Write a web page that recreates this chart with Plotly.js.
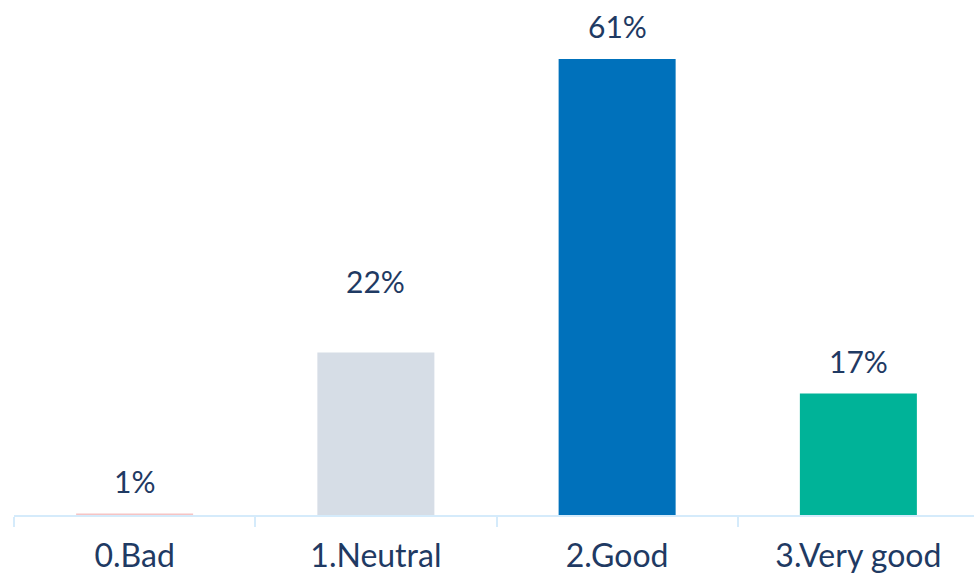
<!DOCTYPE html>
<html>
<head>
<meta charset="utf-8">
<script src="https://cdn.plot.ly/plotly-3.0.1.min.js"></script>
<style>
html, body { margin: 0; padding: 0; overflow: hidden; background: #ffffff; }
#chart { width: 979px; height: 573px; }
</style>
</head>
<body>
<div id="chart"></div>
<script>
// Data
const categories = ["0.Bad", "1.Neutral", "2.Good", "3.Very good"];
const values = [0.2, 21.8, 61.2, 16.3];
const valueLabels = ["1%", "22%", "61%", "17%"];
const barColors = ["#f6c4c4", "#d6dde6", "#0071bb", "#00b398"];

const textColor = "#1f3a63";
const labelShift = [13, 52, 13, 13];

const trace = {
  type: "bar",
  x: categories,
  y: values,
  marker: { color: barColors, line: { width: 0 } },
  hoverinfo: "skip"
};

const annotations = categories.map((c, i) => ({
  x: c,
  y: values[i],
  xref: "x",
  yref: "y",
  text: valueLabels[i],
  showarrow: false,
  yanchor: "bottom",
  yshift: labelShift[i],
  font: { family: "Lato, 'Open Sans', sans-serif", size: 30, color: textColor }
}));

const layout = {
  width: 979,
  height: 573,
  margin: { l: 14, r: 0, t: 0, b: 58 },
  paper_bgcolor: "#ffffff",
  plot_bgcolor: "#ffffff",
  bargap: 0.515,
  showlegend: false,
  xaxis: {
    type: "category",
    automargin: false,
    showline: true,
    linecolor: "#d5ebfb",
    linewidth: 2,
    ticks: "outside",
    tickson: "boundaries",
    ticklen: 10,
    tickcolor: "#d5ebfb",
    tickwidth: 2,
    ticklabelstandoff: 12,
    showgrid: false,
    zeroline: false,
    tickfont: { family: "Lato, 'Open Sans', sans-serif", size: 32, color: textColor },
    fixedrange: true
  },
  yaxis: {
    range: [0, 69.1],
    visible: false,
    showgrid: false,
    zeroline: false,
    fixedrange: true
  },
  annotations: annotations
};

Plotly.newPlot("chart", [trace], layout, { displayModeBar: false, staticPlot: true });
</script>
</body>
</html>
